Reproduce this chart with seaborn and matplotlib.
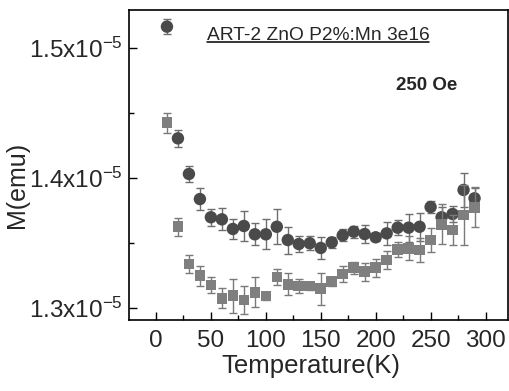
import numpy as np
import pandas as pd
import matplotlib
matplotlib.use("Agg")
import matplotlib.pyplot as plt
import seaborn as sns
from matplotlib.lines import Line2D

temps = [10, 20, 30, 40, 50, 60, 70, 80, 90, 100, 110, 120, 130, 140, 150,
         160, 170, 180, 190, 200, 210, 220, 230, 240, 250, 260, 270, 280, 290]
circle_m = [1.5164, 1.4305, 1.4031, 1.3838, 1.3698, 1.3682, 1.3608, 1.3631, 1.3567, 1.3567,
            1.3625, 1.3523, 1.3492, 1.3498, 1.3462, 1.3505, 1.3559, 1.3587, 1.3569, 1.3544,
            1.3574, 1.3618, 1.3618, 1.3625, 1.3777, 1.3698, 1.3723, 1.3908, 1.3844]
circle_err = [0.0058, 0.0064, 0.0058, 0.0087, 0.0067, 0.0085, 0.0074, 0.0117, 0.0085, 0.0115,
              0.0136, 0.0104, 0.0064, 0.0054, 0.0085, 0.0042, 0.0046, 0.0046, 0.0069, 0.0031,
              0.0088, 0.0059, 0.0108, 0.0108, 0.0046, 0.0077, 0.0062, 0.0128, 0.0077]
square_m = [1.4425, 1.3625, 1.3338, 1.3249, 1.3177, 1.3075, 1.3095, 1.3062, 1.3121, 1.3092,
            1.3238, 1.3182, 1.3169, 1.3169, 1.3150, 1.3202, 1.3262, 1.3310, 1.3279, 1.3310,
            1.3369, 1.3451, 1.3459, 1.3446, 1.3523, 1.3644, 1.3600, 1.3715, 1.3775]
square_err = [0.0077, 0.0069, 0.0072, 0.0077, 0.0064, 0.0077, 0.0131, 0.0108, 0.0115, 0.0031,
              0.0062, 0.0085, 0.0054, 0.0031, 0.0123, 0.0031, 0.0062, 0.0046, 0.0069, 0.0069,
              0.0069, 0.0058, 0.0092, 0.0092, 0.0092, 0.0154, 0.0115, 0.0231, 0.0154]

scale = 1e-5
df_c = pd.DataFrame({"T": temps, "M": np.array(circle_m) * scale, "err": np.array(circle_err) * scale})
df_s = pd.DataFrame({"T": temps, "M": np.array(square_m) * scale, "err": np.array(square_err) * scale})

sns.set_style("ticks")
plt.rcParams["font.family"] = ["Liberation Sans", "DejaVu Sans"]
plt.rcParams["mathtext.default"] = "regular"

fig = plt.figure(figsize=(5.09, 3.91), dpi=100)
ax = fig.add_axes([128.5 / 509, 1 - 320 / 391, 379 / 509, 310 / 391])

ax.errorbar(df_c["T"], df_c["M"], yerr=df_c["err"], fmt="none", ecolor="#6e6e6e",
            elinewidth=1.0, capsize=3.2, capthick=1.0, zorder=2)
sns.scatterplot(data=df_c, x="T", y="M", marker="o", s=80, color="#4a4a4a",
                edgecolor="none", ax=ax, zorder=3, legend=False)
ax.errorbar(df_s["T"], df_s["M"], yerr=df_s["err"], fmt="none", ecolor="#7a7a7a",
            elinewidth=1.0, capsize=3.2, capthick=1.0, zorder=4)
sns.scatterplot(data=df_s, x="T", y="M", marker="s", s=58, color="#7f7f7f",
                edgecolor="none", ax=ax, zorder=5, legend=False)

ax.set_xlim(-25, 320)
ax.set_ylim(1.2908e-5, 1.5292e-5)
ax.set_xticks([0, 50, 100, 150, 200, 250, 300])
ax.set_xticks(np.arange(25, 320, 50), minor=True)
yt = [1.3e-5, 1.4e-5, 1.5e-5]
ax.set_yticks(yt)
ax.set_yticklabels(["1.3x10$^{-5}$", "1.4x10$^{-5}$", "1.5x10$^{-5}$"])
ax.set_yticks([1.35e-5, 1.45e-5], minor=True)

ax.tick_params(axis="both", which="major", direction="in", length=6, width=1.0,
               labelsize=17.5, color="black")
ax.tick_params(axis="both", which="minor", direction="in", length=3.5, width=1.0, color="black")
ax.tick_params(axis="x", which="major", pad=7)
ax.tick_params(axis="y", which="major", pad=4)
for sp in ax.spines.values():
    sp.set_linewidth(1.2)
    sp.set_color("black")

ax.set_xlabel("Temperature(K)", fontsize=18.5)
ax.set_ylabel("M(emu)", fontsize=18)
ax.xaxis.set_label_coords(0.4815, -0.11)
ax.yaxis.set_label_coords(-0.262, 0.435)

t = ax.text(0.5, 0.919, "ART-2 ZnO P2%:Mn 3e16", transform=ax.transAxes,
            ha="center", va="center", fontsize=13.8)
ax.text(0.786, 0.758, "250 Oe", transform=ax.transAxes, ha="center", va="center",
        fontsize=13.5, fontweight="bold")

fig.canvas.draw()
bb = t.get_window_extent().transformed(fig.transFigure.inverted())
fig.add_artist(Line2D([bb.x0, bb.x1], [bb.y0 + 0.004, bb.y0 + 0.004], color="black",
                      lw=1.1, transform=fig.transFigure))

fig.savefig("out.png", dpi=100)
